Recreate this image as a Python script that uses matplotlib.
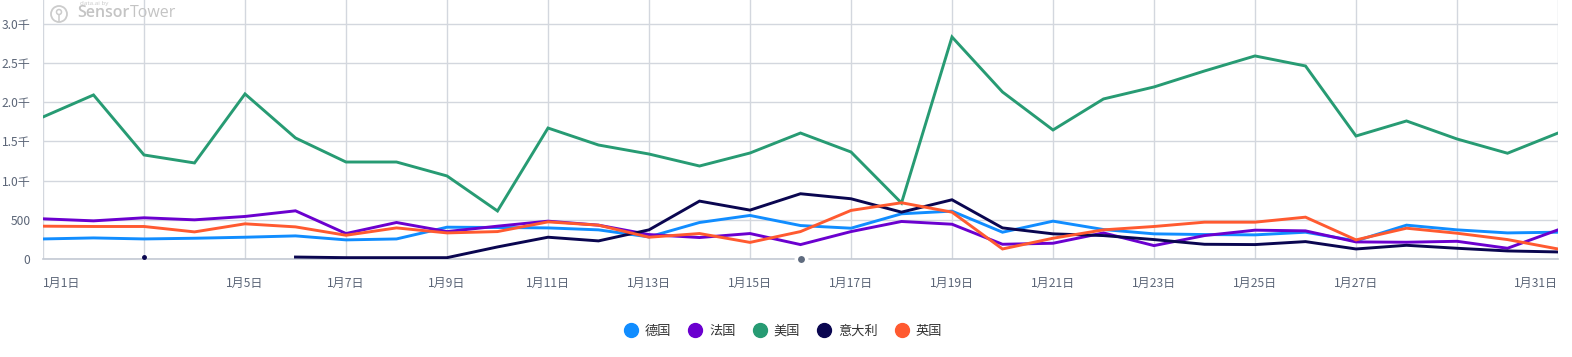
import numpy as np
import matplotlib
matplotlib.use("Agg")
import matplotlib.pyplot as plt
from matplotlib.lines import Line2D
from matplotlib.patches import Circle

plt.rcParams['font.family'] = ['Noto Sans CJK SC', 'DejaVu Sans']

days = list(range(1, 32))
nan = np.nan

germany = [256, 269, 256, 265, 278, 295, 244, 256, 406, 402, 397, 372, 282, 466, 556,
           427, 393, 577, 611, 342, 483, 376, 321, 312, 308, 342, 231, 432, 372, 333, 342]
france = [513, 487, 526, 500, 543, 615, 325, 466, 350, 419, 483, 432, 312, 274, 325,
          184, 350, 479, 444, 188, 201, 333, 171, 299, 368, 359, 218, 214, 226, 137, 372]
usa = [1813, 2094, 1328, 1226, 2107, 1545, 1238, 1238, 1060, 613, 1672, 1455, 1340, 1187, 1353,
       1608, 1366, 715, 2834, 2132, 1647, 2043, 2196, 2400, 2592, 2464, 1570, 1762, 1532, 1350, 1608]
italy = [nan, nan, 20, nan, nan, 25, 17, 17, 17, 154, 278, 231, 372, 739, 624,
         833, 769, 598, 756, 397, 321, 299, 248, 188, 184, 222, 128, 175, 137, 103, 90]
uk = [419, 415, 415, 346, 449, 410, 303, 397, 333, 350, 474, 432, 278, 325, 212,
      350, 620, 718, 598, 128, 265, 372, 415, 470, 470, 534, 244, 393, 329, 248, 128]

series_names = ['德国', '法国', '美国', '意大利', '英国']
series_values = [germany, france, usa, italy, uk]
series_colors = ['#118DFF', '#6B00CF', '#279B73', '#0A0650', '#FF5A30']

x_ticks = list(range(1, 32, 2))
x_labels = ['1月1日', '', '1月5日', '1月7日', '1月9日', '1月11日', '1月13日', '1月15日',
            '1月17日', '1月19日', '1月21日', '1月23日', '1月25日', '1月27日', '', '1月31日']
y_ticks = [0, 500, 1000, 1500, 2000, 2500, 3000]
y_labels = ['0', '500', '1.0千', '1.5千', '2.0千', '2.5千', '3.0千']

W, H = 1572, 357
fig = plt.figure(figsize=(W / 100, H / 100), dpi=100)
ax = fig.add_axes([43 / W, (H - 259) / H, (1558 - 43) / W, 259 / H])

for name, vals, col in zip(series_names, series_values, series_colors):
    ax.plot(days, vals, color=col, lw=2.1, solid_joinstyle='miter', zorder=3, label=name)
# isolated Italy point(s)
it = np.array(italy, dtype=float)
iso = [i for i in range(len(it)) if not np.isnan(it[i])
       and (i == 0 or np.isnan(it[i - 1])) and (i == len(it) - 1 or np.isnan(it[i + 1]))]
ax.plot([days[i] for i in iso], [it[i] for i in iso], 'o', color=series_colors[3], ms=2.5, zorder=3)

ax.set_xlim(1, 31)
ax.set_ylim(0, 3306)
ax.set_xticks(x_ticks)
ax.set_xticklabels(x_labels)
ax.set_yticks(y_ticks)
ax.set_yticklabels(y_labels)
ax.grid(True, color='#D3D7DE', lw=1)
ax.set_axisbelow(True)
for s in ['top', 'right', 'left']:
    ax.spines[s].set_visible(False)
ax.spines['bottom'].set_color('#C3C9D3')
ax.spines['bottom'].set_linewidth(1.2)
ax.tick_params(axis='x', length=0, pad=13, labelsize=8.7, labelcolor='#5B6577')
ax.tick_params(axis='y', length=0, pad=9, labelsize=8.7, labelcolor='#5B6577')
xl = ax.get_xticklabels()
xl[0].set_horizontalalignment('left')
xl[-1].set_horizontalalignment('right')

# slider handle
ax.plot([16], [0], 'o', ms=7.5, mfc='#5F6B7E', mec='white', mew=2.5, clip_on=False, zorder=6)

# watermark
wm_font = ['Open Sans', 'DejaVu Sans']
t1 = fig.text(77 / W, 1 - 13 / H, 'Sensor', fontsize=11.5, color='#C4C4C4', fontweight='semibold',
              va='center', ha='left', family=wm_font)
fig.canvas.draw()
bb = t1.get_window_extent(renderer=fig.canvas.get_renderer())
fig.text(bb.x1 / W, 1 - 13 / H, 'Tower', fontsize=11.5, color='#C4C4C4',
         va='center', ha='left', family=wm_font)
fig.text(80 / W, 1 - 4 / H, 'data.ai by', fontsize=4.5, color='#CACACA',
         va='center', ha='left', family=wm_font)
fig.add_artist(Circle((59, H - 14), 8, transform=None, fill=False, ec='#CCCCCC', lw=1.3))
fig.add_artist(Circle((59, H - 12), 2.5, transform=None, fill=False, ec='#CCCCCC', lw=1.1))
fig.add_artist(Line2D([59, 59], [H - 15, H - 21], transform=None, color='#CCCCCC', lw=1.1))

handles = [Line2D([], [], ls='none', marker='o', ms=10, color=c) for c in series_colors]
fig.legend(handles, series_names, loc='center', bbox_to_anchor=(783 / W, 1 - 331 / H),
           ncol=5, frameon=False, fontsize=9.5, handlelength=1.06, handletextpad=0.53,
           columnspacing=1.29, labelcolor='#333333')

fig.savefig('out.png', dpi=100)
